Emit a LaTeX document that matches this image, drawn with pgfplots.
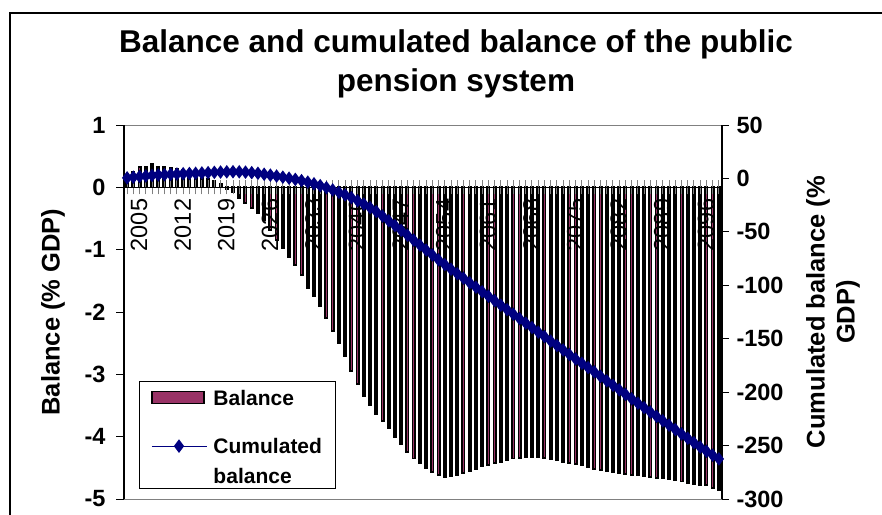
\documentclass[border=0pt]{standalone}
\usepackage{pgfplots}
\pgfplotsset{compat=1.18}
\usepackage{pgfplotstable}
\usepackage{fontspec}
\setmainfont{Liberation Sans}
\definecolor{barfill}{HTML}{993366}
\definecolor{navy}{HTML}{000080}
\newcommand{\tickfont}{\fontsize{23.5}{28}\selectfont\bfseries}
\newcommand{\xtickfont}{\fontsize{23.5}{28}\selectfont}
\newcommand{\labfont}{\fontsize{25.5}{30}\selectfont\bfseries}
\pgfplotsset{
  barlegend/.style={legend image code/.code={\draw[##1] (0pt,1.5pt) rectangle (52pt,13.5pt); \path (0pt,-21pt) (0pt,20pt);}},
  linelegend/.style={legend image code/.code={\draw[##1, line width=1pt, mark size=6pt, mark repeat=2, mark phase=2] plot coordinates {(0pt,7.5pt) (27pt,7.5pt) (55pt,7.5pt)};}},
}

\pgfplotstableread{
year bal cum
2005 0.15 0.5
2006 0.25 1.2
2007 0.33 1.8
2008 0.33 2.3
2009 0.38 2.8
2010 0.33 3.2
2011 0.32 3.5
2012 0.31 3.8
2013 0.30 4.1
2014 0.28 4.4
2015 0.25 4.6
2016 0.20 4.8
2017 0.16 5.1
2018 0.13 5.4
2019 0.10 5.7
2020 0.05 6.0
2021 -0.03 6.2
2022 -0.08 6.3
2023 -0.17 6.2
2024 -0.25 5.9
2025 -0.33 5.4
2026 -0.42 4.8
2027 -0.53 3.9
2028 -0.69 3.1
2029 -0.85 2.2
2030 -0.98 1.2
2031 -1.12 0.2
2032 -1.25 -0.9
2033 -1.40 -2.1
2034 -1.62 -3.5
2035 -1.75 -5.0
2036 -1.90 -6.8
2037 -2.10 -8.7
2038 -2.30 -10.8
2039 -2.50 -13.0
2040 -2.70 -15.4
2041 -2.95 -18.0
2042 -3.15 -21.0
2043 -3.35 -24.0
2044 -3.50 -27.3
2045 -3.63 -31.0
2046 -3.75 -35.2
2047 -3.87 -39.6
2048 -4.00 -44.1
2049 -4.12 -48.6
2050 -4.25 -53.2
2051 -4.35 -57.8
2052 -4.43 -62.4
2053 -4.50 -67.0
2054 -4.57 -71.6
2055 -4.62 -76.2
2056 -4.65 -80.6
2057 -4.64 -85.0
2058 -4.61 -89.2
2059 -4.58 -93.4
2060 -4.55 -97.6
2061 -4.52 -101.8
2062 -4.48 -106.0
2063 -4.45 -110.2
2064 -4.42 -114.4
2065 -4.40 -118.6
2066 -4.37 -122.8
2067 -4.35 -127.0
2068 -4.34 -131.2
2069 -4.33 -135.4
2070 -4.33 -139.6
2071 -4.33 -143.8
2072 -4.34 -148.0
2073 -4.36 -152.2
2074 -4.38 -156.4
2075 -4.40 -160.6
2076 -4.42 -164.8
2077 -4.44 -169.0
2078 -4.46 -173.0
2079 -4.49 -177.0
2080 -4.52 -181.0
2081 -4.54 -185.2
2082 -4.56 -189.4
2083 -4.57 -193.6
2084 -4.59 -197.8
2085 -4.60 -202.0
2086 -4.61 -206.2
2087 -4.62 -210.4
2088 -4.63 -214.5
2089 -4.65 -218.6
2090 -4.66 -222.7
2091 -4.67 -226.8
2092 -4.68 -230.9
2093 -4.70 -235.0
2094 -4.72 -239.1
2095 -4.74 -243.2
2096 -4.76 -247.3
2097 -4.77 -251.4
2098 -4.78 -255.3
2099 -4.82 -259.0
2100 -4.86 -262.5
}\data

\begin{document}
\begin{tikzpicture}[x=1pt,y=1pt]
\path[use as bounding box] (0,0) rectangle (882,514);
\clip (0,0) rectangle (882,514);
\fill[white] (0,0) rectangle (882,514);
\draw[line width=2pt] (9.5,-20) -- (9.5,501) -- (900,501);
\node[font=\fontsize{31.5}{37}\selectfont\bfseries, anchor=base, inner sep=0pt] at (456,461) {Balance and cumulated balance of the public};
\node[font=\fontsize{31.5}{37}\selectfont\bfseries, anchor=base, inner sep=0pt] at (456,422) {pension system};

\begin{axis}[
  at={(124pt,15pt)}, anchor=south west,
  scale only axis, width=598pt, height=374pt,
  xmin=2004.5, xmax=2100.5, ymin=-5, ymax=1,
  axis x line=middle, axis y line=left,
  axis line style={-, black, line width=1.3pt},
  hide obscured x ticks=false, hide obscured y ticks=false,
  axis on top,
  tick align=outside,
  major tick length=8pt,
  ytick={-5,-4,-3,-2,-1,0,1},
  yticklabels={-5,-4,-3,-2,-1,0,1},
  y tick style={black, line width=1pt},
  yticklabel style={font=\tickfont, xshift=-7pt},
  xtick={2005,2012,...,2096},
  xticklabels={2005,2012,2019,2026,2033,2040,2047,2054,2061,2068,2075,2082,2089,2096},
  major x tick style={draw=none},
  minor xtick={2005,...,2100},
  minor tick length=14pt,
  minor x tick style={gray, line width=1pt, yshift=7pt},
  xticklabel style={font=\xtickfont, rotate=90, anchor=east, yshift=-12pt},
  ylabel={Balance (\% GDP)},
  every axis y label/.style={at={(axis description cs:-0.1187,0.5)}, rotate=90, anchor=center, font=\labfont},
]
\addplot[ybar, bar width=2.2pt, fill=barfill, draw=black, line width=1.8pt] table[x=year,y=bal]{\data};
\draw[gray, line width=1pt] (rel axis cs:0,1) -- (rel axis cs:1,1);
\draw[gray, line width=1pt] (rel axis cs:0,0) -- (rel axis cs:1,0);
\end{axis}

\begin{axis}[
  at={(124pt,15pt)}, anchor=south west,
  scale only axis, width=598pt, height=374pt,
  xmin=2004.5, xmax=2100.5, ymin=-300, ymax=50,
  axis x line=none, axis y line=right,
  axis line style={-, black, line width=1.3pt},
  tick align=outside,
  major tick length=7pt,
  ytick={-300,-250,-200,-150,-100,-50,0,50},
  yticklabels={-300,-250,-200,-150,-100,-50,0,50},
  y tick style={black, line width=1pt},
  yticklabel style={font=\tickfont, xshift=4pt},
  ylabel={Cumulated balance (\%\\GDP)},
  every axis y label/.style={at={(axis description cs:1.1856,0.5)}, rotate=90, anchor=center, align=center, font=\labfont},
  legend style={at={(axis description cs:0.025,0.027)}, anchor=south west,
    draw=black, line width=0.8pt, fill=white,
    font=\fontsize{21}{25}\selectfont\bfseries,
    inner xsep=12pt, inner ysep=3pt, row sep=10.7pt, column sep=5pt,
    nodes={inner sep=1pt},
    cells={anchor=base west}},
]
\addlegendimage{fill=barfill, draw=black, line width=1.3pt, barlegend}
\addlegendentry{Balance}
\addplot[navy, line width=2.2pt, mark=diamond*, mark size=5pt, linelegend]
  table[x=year,y=cum]{\data};
\addlegendentry{Cumulated\hspace{6pt}}
\addlegendimage{empty legend}
\addlegendentry{balance}
\end{axis}
\end{tikzpicture}
\end{document}
